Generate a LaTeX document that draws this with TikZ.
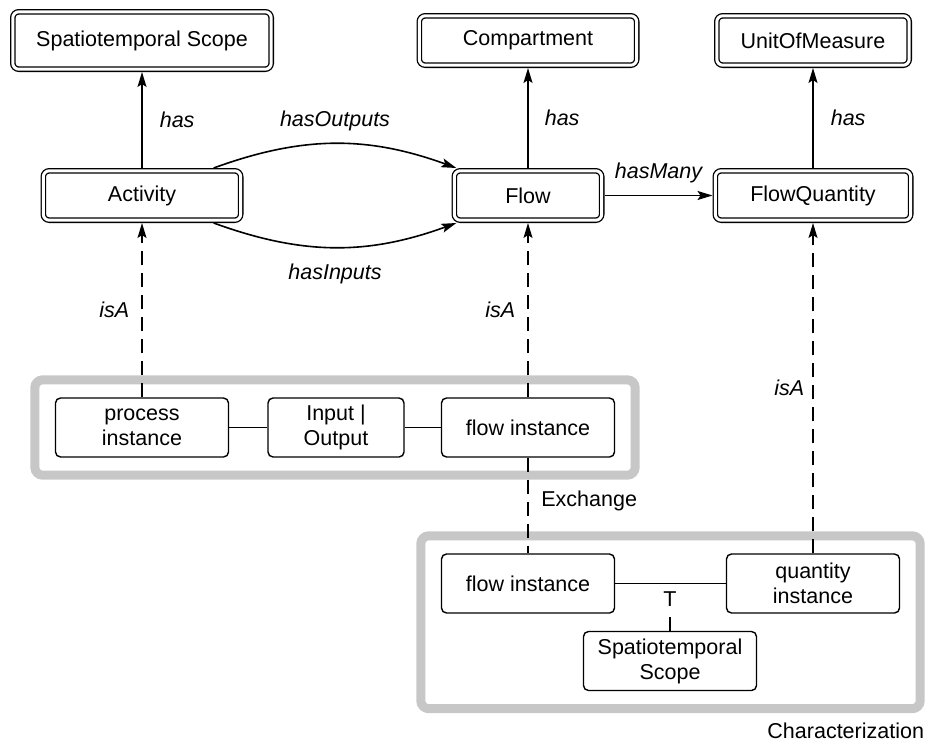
\documentclass[tikz,border=0pt]{standalone}
\usepackage{fontspec}
\setmainfont{Liberation Sans}
\usepackage{tikz}
\usetikzlibrary{positioning,fit,arrows.meta}
\tikzset{>={Stealth[length=15pt,width=9pt,inset=3pt]}}

\begin{document}
\begin{tikzpicture}[
x=1pt, y=1pt, on grid,
font=\fontsize{21.5}{25}\selectfont,
classnode/.style={rectangle, draw=black, line width=1.3pt, double=white, double distance=3pt, rounded corners=6pt, align=center, minimum height=49.4pt, inner sep=0pt, outer sep=2.8pt},
instnode/.style={rectangle, draw=black, line width=1.4pt, rounded corners=5pt, align=center, minimum width=173pt, minimum height=59pt, inner sep=0pt, outer sep=0.7pt},
groupframe/.style={rectangle, draw=black!22, line width=9pt, rounded corners=8pt, inner xsep=20pt, inner ysep=17.5pt, outer sep=0pt},
rellabel/.style={font=\fontsize{21.5}{25}\selectfont\itshape, inner sep=0pt},
hasarrow/.style={->, line width=1.6pt},
isaarrow/.style={->, line width=1.4pt, dash pattern=on 14pt off 8pt},
]
\useasboundingbox (0,0) rectangle (933,-744);
%Nodes
\node[classnode, minimum width=197.4pt](Activity) at (142,-195.5){Activity};
\node[classnode, minimum width=258.4pt, minimum height=57.4pt](Activity scope)[above=155pt of Activity]{Spatiotemporal Scope};
\node[classnode, minimum width=147.4pt](Flow)[right=386pt of Activity]{Flow};
\node[classnode, minimum width=217.4pt](Compartment)[above=155pt of Flow]{Compartment};
\node[classnode, minimum width=195.4pt](FlowQuantity)[right=285pt of Flow]{FlowQuantity};
\node[classnode, minimum width=192.4pt](UnitOfMeasure)[above=155pt of FlowQuantity]{UnitOfMeasure};

\node[instnode](process instance)[below=232pt of Activity]{process\\instance};
\node[instnode, minimum width=136pt](Input Output)[right=194pt of process instance]{Input |\\Output};
\node[instnode](exchange flow instance)[right=386pt of process instance]{flow instance};

\node[instnode](char flow instance)[below=156pt of exchange flow instance]{flow instance};
\node[instnode](quantity instance)[right=285pt of char flow instance]{quantity\\instance};
\node[instnode](instance scope)[below right=77.5pt and 142pt of char flow instance]{Spatiotemporal\\Scope};
\node[inner xsep=0pt, inner ysep=10pt](T mark)[above=62pt of instance scope]{T};

%Frames
\node[groupframe, fit=(process instance)(exchange flow instance)](Exchange){};
\node[groupframe, fit=(char flow instance)(quantity instance)(instance scope)](Characterization){};
\node[anchor=north east, inner sep=0pt](Exchange label) at ([xshift=2pt,yshift=-16pt]Exchange.south east){Exchange};
\node[anchor=north east, inner sep=0pt](Characterization label) at ([xshift=4pt,yshift=-14pt]Characterization.south east){Characterization};

%Lines
\draw[hasarrow] (Activity) -- node[rellabel, midway, right=17pt]{has} (Activity scope);
\draw[hasarrow] (Flow) -- node[rellabel, midway, right=16pt]{has} (Compartment);
\draw[hasarrow] (FlowQuantity) -- node[rellabel, midway, right=17pt]{has} (UnitOfMeasure);
\draw[hasarrow] (Flow) -- node[rellabel, midway, above=12pt]{hasMany} (FlowQuantity);
\draw[hasarrow] (Activity.21) to[bend left=20] node[rellabel, above=12pt]{hasOutputs} (Flow.159);
\draw[hasarrow] (Activity.-21) to[bend right=20] node[rellabel, below=16pt]{hasInputs} (Flow.-159);

\draw[isaarrow] (process instance) -- node[rellabel, midway, left=12pt]{isA} (Activity);
\draw[isaarrow] (exchange flow instance) -- node[rellabel, midway, left=12pt]{isA} (Flow);
\draw[isaarrow] (quantity instance) -- node[rellabel, midway, left=8pt]{isA} (FlowQuantity);

\draw[line width=1.4pt] (process instance) -- (Input Output);
\draw[line width=1.4pt] (Input Output) -- (exchange flow instance);
\draw[line width=1.4pt, dash pattern=on 14pt off 8pt] (exchange flow instance) -- (char flow instance);
\draw[line width=1.4pt] (char flow instance) -- (quantity instance);
\draw[line width=1.4pt] (instance scope) -- (T mark);
\end{tikzpicture}
\end{document}
